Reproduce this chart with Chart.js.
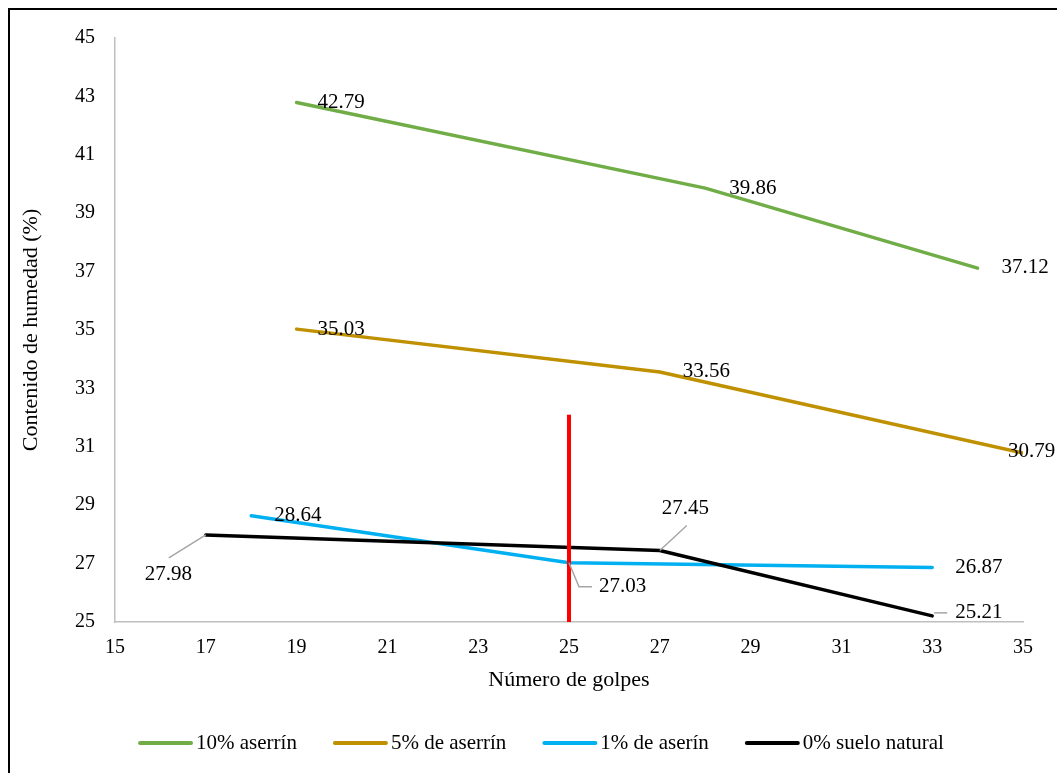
<!DOCTYPE html>
<html><head><meta charset="utf-8">
<script src="https://cdn.jsdelivr.net/npm/chart.js@4"></script>
<style>html,body{margin:0;padding:0;background:#fff}#wrap{width:1057px;height:773px;position:relative}</style>
</head><body><div id="wrap"><canvas id="c" width="1057" height="773"></canvas></div>
<script>
// ---- data ----
const seriesNames = ['10% aserrín', '5% de aserrín', '1% de aserín', '0% suelo natural'];
const golpes10 = [19, 28, 34];
const humedad10 = [42.79, 39.86, 37.12];
const golpes5 = [19, 27, 35];
const humedad5 = [35.03, 33.56, 30.79];
const golpes1 = [18, 25, 33];
const humedad1 = [28.64, 27.03, 26.87];
const golpes0 = [17, 27, 33];
const humedad0 = [27.98, 27.45, 25.21];
const refLineX = [25, 25];
const refLineY = [25, 32.1];
const xTickValues = [15, 17, 19, 21, 23, 25, 27, 29, 31, 33, 35];
const yTickValues = [25, 27, 29, 31, 33, 35, 37, 39, 41, 43, 45];
const xTitle = 'Número de golpes';
const yTitle = 'Contenido de humedad (%)';

// ---- styles ----
const colors = ['#70AD47', '#BF9000', '#00B0F0', '#000000'];
const FONT = '"Liberation Serif", "Times New Roman", serif';
// label placement (pixel offsets from point): [dx, dy, leaderPath or null]
const labelPlacement = [
  [[21, 0, null], [24, 0, null], [24, -1, null]],
  [[21, 0, null], [23, -1, null], [-15, -1, null]],
  [[23, 0, null], [30, 24, [[0, 0], [10, 24], [23, 24]]], [23, 0, null]],
  [[-61, 40, [[0, 0], [-37, 23]]], [2, -42, [[0, 0], [27, -25]]], [23, -3, [[2, -3], [15, -3]]]]
];

const pts = (xs, ys) => xs.map((x, i) => ({x: x, y: ys[i]}));
const seriesX = [golpes10, golpes5, golpes1, golpes0];
const seriesY = [humedad10, humedad5, humedad1, humedad0];

const datasets = seriesNames.map((n, i) => ({
  label: n,
  data: pts(seriesX[i], seriesY[i]),
  borderColor: colors[i],
  backgroundColor: colors[i],
  borderWidth: 3.5,
  pointRadius: 0,
  tension: 0,
  borderCapStyle: 'round',
  borderJoinStyle: 'round',
  order: 4 - i
}));
datasets.push({
  label: 'ref',
  data: pts(refLineX, refLineY),
  borderColor: '#FF0000',
  borderWidth: 4,
  pointRadius: 0,
  order: 0
});

const framePlugin = {
  id: 'frame',
  afterDraw(chart) {
    const ctx = chart.ctx;
    ctx.save();
    ctx.fillStyle = '#000';
    ctx.fillRect(8, 8, 1049, 2);
    ctx.fillRect(8, 8, 2, 765);
    ctx.restore();
  }
};

const labelPlugin = {
  id: 'labels',
  afterDatasetsDraw(chart) {
    const ctx = chart.ctx;
    ctx.save();
    ctx.font = '21px ' + FONT;
    ctx.textBaseline = 'middle';
    ctx.textAlign = 'left';
    for (let i = 0; i < seriesNames.length; i++) {
      const meta = chart.getDatasetMeta(i);
      meta.data.forEach((el, j) => {
        const p = labelPlacement[i][j];
        const px = el.x, py = el.y;
        if (p[2]) {
          ctx.strokeStyle = '#A6A6A6';
          ctx.lineWidth = 1.5;
          ctx.beginPath();
          p[2].forEach((q, k) => {
            if (k === 0) ctx.moveTo(px + q[0], py + q[1]); else ctx.lineTo(px + q[0], py + q[1]);
          });
          ctx.stroke();
        }
        ctx.fillStyle = '#000';
        ctx.fillText(seriesY[i][j].toFixed(2), px + p[0], py + p[1]);
      });
    }
    ctx.restore();
  }
};

const legendPlugin = {
  id: 'customLegend',
  afterDraw(chart) {
    const ctx = chart.ctx;
    ctx.save();
    ctx.font = '21px ' + FONT;
    ctx.textBaseline = 'middle';
    const mark = 55, gapT = 3, gapI = 36;
    const widths = seriesNames.map(n => ctx.measureText(n).width);
    let total = 0;
    widths.forEach(w => total += mark + gapT + w);
    total += gapI * (seriesNames.length - 1);
    let x = 541 - total / 2;
    const y = 743;
    seriesNames.forEach((n, i) => {
      ctx.strokeStyle = colors[i];
      ctx.lineWidth = 4;
      ctx.lineCap = 'round';
      ctx.beginPath();
      ctx.moveTo(x + 2, y);
      ctx.lineTo(x + mark - 2, y);
      ctx.stroke();
      ctx.fillStyle = '#000';
      ctx.textAlign = 'left';
      ctx.fillText(n, x + mark + gapT, y);
      x += mark + gapT + widths[i] + gapI;
    });
    ctx.restore();
  }
};

new Chart(document.getElementById('c'), {
  type: 'line',
  data: {datasets: datasets},
  options: {
    responsive: false,
    animation: false,
    devicePixelRatio: 1,
    layout: {padding: {left: 0, right: 34, top: 38, bottom: 51}},
    plugins: {legend: {display: false}, tooltip: {enabled: false}},
    scales: {
      x: {
        type: 'linear', min: 15, max: 35,
        afterBuildTicks: (s) => { s.ticks = xTickValues.map(v => ({value: v})); },
        afterFit: (s) => { s.height = 100; },
        grid: {display: false, drawTicks: false},
        border: {display: true, color: '#BFBFBF', width: 1.5},
        ticks: {font: {family: FONT, size: 20}, color: '#000', padding: 14, maxRotation: 0},
        title: {display: true, text: xTitle, font: {family: FONT, size: 22}, color: '#000', padding: {top: 4, bottom: 29}}
      },
      y: {
        type: 'linear', min: 25, max: 45,
        afterBuildTicks: (s) => { s.ticks = yTickValues.map(v => ({value: v})); },
        afterFit: (s) => { s.width = 115; },
        grid: {display: false, drawTicks: false},
        border: {display: true, color: '#BFBFBF', width: 1.5},
        ticks: {font: {family: FONT, size: 20}, color: '#000', padding: 20},
        title: {display: true, text: yTitle, font: {family: FONT, size: 22}, color: '#000', padding: {top: 18, bottom: 4}}
      }
    }
  },
  plugins: [framePlugin, labelPlugin, legendPlugin]
});
</script></body></html>
